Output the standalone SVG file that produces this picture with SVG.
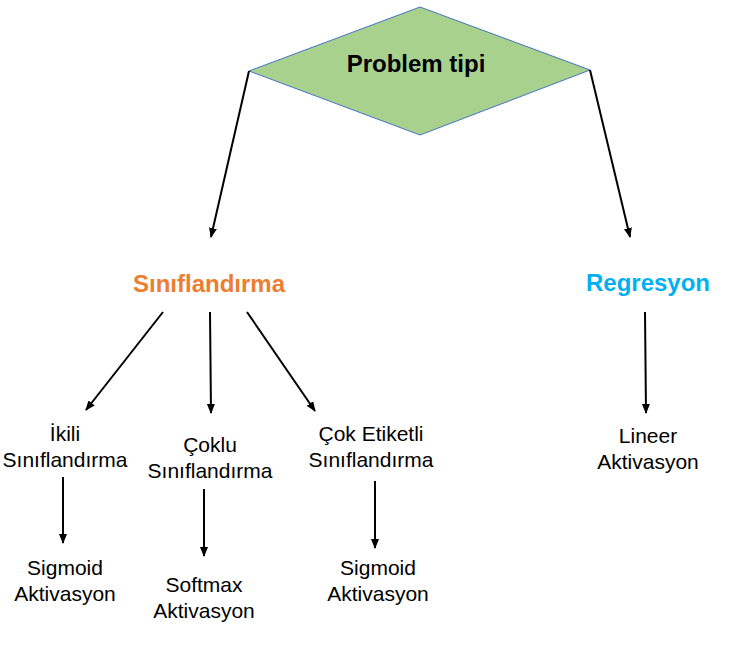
<svg xmlns="http://www.w3.org/2000/svg" width="749" height="648" viewBox="0 0 749 648">
<defs>
<style>
.t{font-family:"Liberation Sans",Arial,sans-serif;font-size:21px;fill:#000;text-anchor:middle}
.b{font-family:"Liberation Sans",Arial,sans-serif;font-size:24px;font-weight:bold;text-anchor:middle}
.c line{stroke:#000;stroke-width:2;marker-end:url(#ah)}
</style>
<marker id="ah" markerWidth="10" markerHeight="10" refX="9" refY="5" orient="auto" markerUnits="userSpaceOnUse">
<path d="M0,1 L10,5 L0,9 Z" fill="#000"/>
</marker>
</defs>
<rect width="749" height="648" fill="#fff"/>
<g id="problem">
<polygon points="249,71 420,7 590,70 420,135" fill="#A9D18E" stroke="#4472C4" stroke-width="1"/>
<text class="b" x="416" y="72" fill="#000">Problem tipi</text>
</g>
<g id="siniflandirma"><text class="b" x="209" y="292" fill="#ED7D31">Sınıflandırma</text></g>
<g id="regresyon"><text class="b" x="648" y="291" fill="#00B0F0">Regresyon</text></g>
<g id="ikili"><text class="t" x="65" y="441">İkili</text><text class="t" x="65" y="467">Sınıflandırma</text></g>
<g id="coklu"><text class="t" x="210" y="452">Çoklu</text><text class="t" x="210" y="478">Sınıflandırma</text></g>
<g id="cok-etiketli"><text class="t" x="371" y="441">Çok Etiketli</text><text class="t" x="371" y="467">Sınıflandırma</text></g>
<g id="lineer"><text class="t" x="648" y="443">Lineer</text><text class="t" x="648" y="469">Aktivasyon</text></g>
<g id="sigmoid1"><text class="t" x="65" y="575">Sigmoid</text><text class="t" x="65" y="601">Aktivasyon</text></g>
<g id="softmax"><text class="t" x="204" y="592">Softmax</text><text class="t" x="204" y="618">Aktivasyon</text></g>
<g id="sigmoid2"><text class="t" x="378" y="575">Sigmoid</text><text class="t" x="378" y="601">Aktivasyon</text></g>
<g id="connectors" class="c">
<line x1="249" y1="71" x2="211" y2="237"/>
<line x1="590" y1="70" x2="630" y2="237"/>
<line x1="163" y1="312" x2="86" y2="410"/>
<line x1="210" y1="312" x2="211" y2="413"/>
<line x1="247" y1="312" x2="315" y2="411"/>
<line x1="645" y1="312" x2="646" y2="413"/>
<line x1="63" y1="477" x2="63" y2="543"/>
<line x1="204" y1="489" x2="204" y2="556"/>
<line x1="375" y1="481" x2="375" y2="548"/>
</g>
</svg>
